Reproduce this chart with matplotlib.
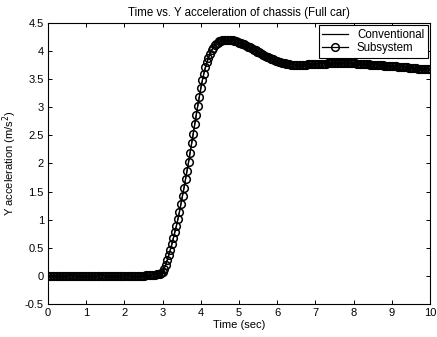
import matplotlib.pyplot as plt
import numpy as np
from matplotlib.ticker import FuncFormatter

# Y acceleration of chassis, sampled every 0.04 s from 0 to 10 s
accel = [
    0.0, 0.0, 0.0, 0.0, 0.0, 0.0, 0.0, 0.0, 0.0, 0.0,
    0.0, 0.0, 0.0, 0.0, 0.0, 0.0, 0.0, 0.0, 0.0, 0.0,
    0.0, 0.0, 0.0, 0.0, 0.0, 0.0, 0.0, 0.0, 0.0, 0.0,
    0.0, 0.0, 0.0, 0.0, 0.0, 0.0, 0.0, 0.0, 0.0, 0.0,
    0.0, 0.0, 0.0, 0.0, 0.0, 0.0, 0.0, 0.0, 0.0, 0.0,
    0.0, 0.0, 0.0, 0.0, 0.0, 0.0, 0.0, 0.0, 0.0, 0.0,
    0.000, 0.002, 0.004, 0.006, 0.008, 0.010, 0.012, 0.014, 0.017, 0.020,
    0.024, 0.028, 0.033, 0.040, 0.050, 0.07, 0.13, 0.20, 0.28, 0.37,
    0.46, 0.56, 0.67, 0.78, 0.89, 1.01, 1.14, 1.28, 1.42, 1.57,
    1.72, 1.87, 2.03, 2.19, 2.36, 2.53, 2.70, 2.86, 3.03, 3.19,
    3.34, 3.48, 3.60, 3.71, 3.80, 3.88, 3.95, 4.01, 4.06, 4.10,
    4.13, 4.15, 4.17, 4.18, 4.19, 4.195, 4.20, 4.20, 4.20, 4.20,
    4.195, 4.19, 4.18, 4.17, 4.16, 4.15, 4.14, 4.13, 4.12, 4.10,
    4.09, 4.08, 4.07, 4.05, 4.04, 4.02, 4.01, 3.99, 3.98, 3.96,
    3.95, 3.93, 3.92, 3.90, 3.89, 3.87, 3.86, 3.85, 3.84, 3.83,
    3.82, 3.81, 3.80, 3.79, 3.785, 3.78, 3.775, 3.77, 3.765, 3.76,
    3.76, 3.755, 3.755, 3.755, 3.755, 3.755, 3.755, 3.76, 3.76, 3.76,
    3.765, 3.765, 3.765, 3.77, 3.77, 3.77, 3.77, 3.772, 3.774, 3.775,
    3.776, 3.777, 3.778, 3.779, 3.78, 3.78, 3.78, 3.78, 3.78, 3.78,
    3.78, 3.78, 3.78, 3.78, 3.78, 3.78, 3.78, 3.78, 3.78, 3.78,
    3.78, 3.779, 3.778, 3.776, 3.774, 3.772, 3.770, 3.768, 3.766, 3.764,
    3.762, 3.760, 3.758, 3.756, 3.754, 3.752, 3.750, 3.748, 3.746, 3.744,
    3.742, 3.740, 3.738, 3.736, 3.734, 3.732, 3.730, 3.728, 3.726, 3.724,
    3.722, 3.720, 3.718, 3.715, 3.712, 3.709, 3.706, 3.703, 3.700, 3.697,
    3.694, 3.691, 3.689, 3.687, 3.685, 3.684, 3.683, 3.682, 3.681, 3.680,
    3.68,
]
time = np.linspace(0, 10, len(accel))

xticks = [0, 1, 2, 3, 4, 5, 6, 7, 8, 9, 10]
yticks = [-0.5, 0, 0.5, 1, 1.5, 2, 2.5, 3, 3.5, 4, 4.5]

plt.rcParams['font.family'] = ['Liberation Sans', 'DejaVu Sans']
fig = plt.figure(figsize=(4.37, 3.37), dpi=100)
ax = fig.add_axes([0.110, 0.098, 0.874, 0.834])

ax.plot(time, accel, color='k', lw=0.9, label='Conventional')
ax.plot(time, accel, color='k', lw=0.9, marker='o', ms=5.5, mfc='none',
        mec='k', mew=1.1, label='Subsystem')

ax.set_xlim(0, 10)
ax.set_ylim(-0.5, 4.5)
ax.set_xticks(xticks)
ax.set_yticks(yticks)
ax.yaxis.set_major_formatter(FuncFormatter(lambda v, p: '%g' % v))
ax.tick_params(direction='in', top=True, right=True, labelsize=8,
               length=3, width=0.7, pad=3)
for s in ax.spines.values():
    s.set_linewidth(0.8)

ax.set_title('Time vs. Y acceleration of chassis (Full car)', fontsize=8.3, pad=5)
ax.set_xlabel('Time (sec)', fontsize=8, labelpad=1)
ax.set_ylabel('Y acceleration (m/s$^2$)', fontsize=8, labelpad=4)

leg = ax.legend(loc='upper right', fontsize=8.3, fancybox=False,
                edgecolor='k', framealpha=1, borderaxespad=0.2,
                handlelength=2.2, borderpad=0.3, labelspacing=0.15)
leg.get_frame().set_linewidth(0.8)

fig.savefig('out.png', dpi=100)
